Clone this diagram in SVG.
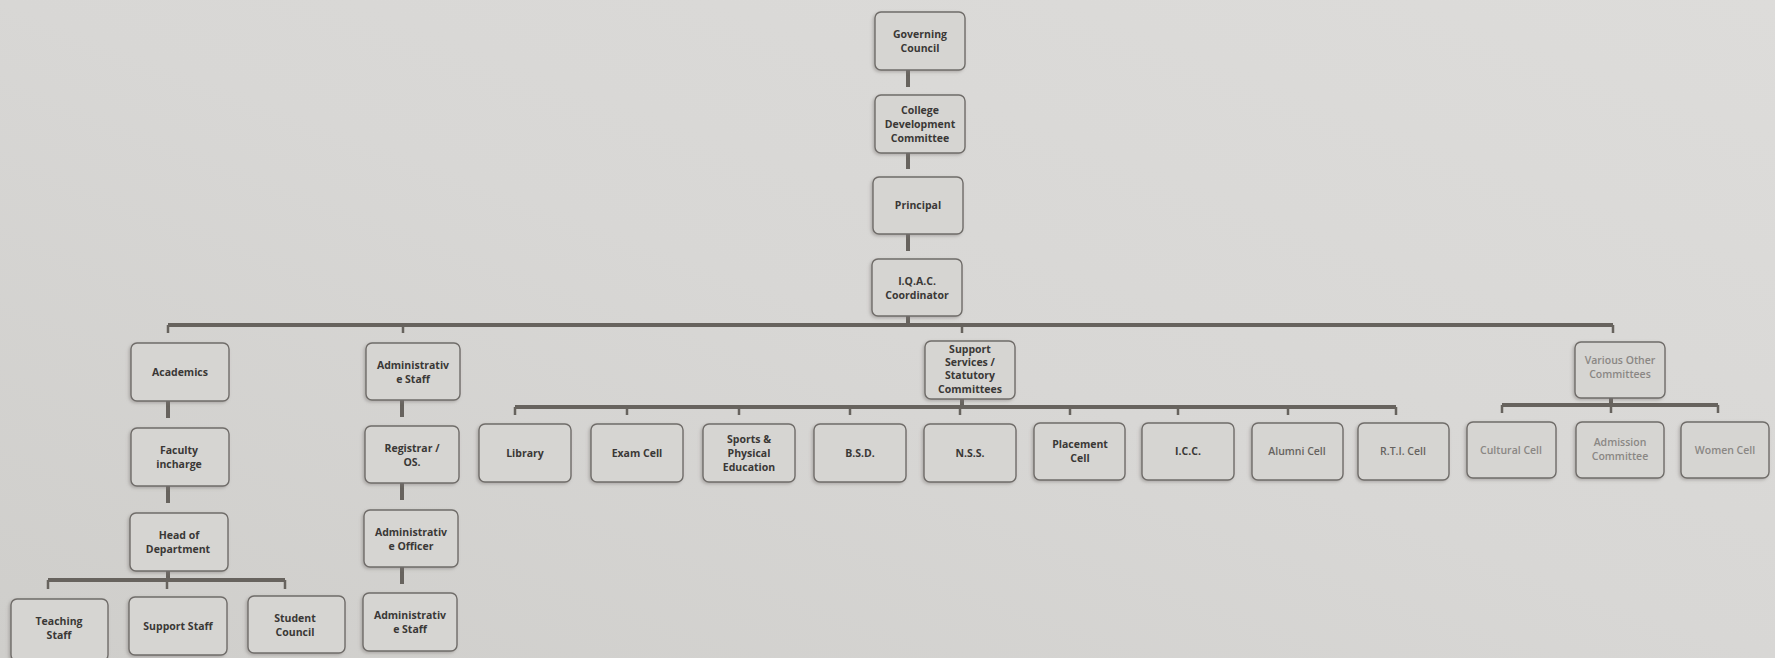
<svg xmlns="http://www.w3.org/2000/svg" width="1775" height="658" viewBox="0 0 1775 658">
<defs>
<linearGradient id="bg" x1="0" y1="1" x2="1" y2="0">
<stop offset="0" stop-color="#cfcecb"/>
<stop offset="0.5" stop-color="#d8d7d5"/>
<stop offset="1" stop-color="#dddcda"/>
</linearGradient>
<filter id="sh" x="-10%" y="-10%" width="120%" height="125%">
<feDropShadow dx="-1.5" dy="1.5" stdDeviation="1.5" flood-color="#7a7774" flood-opacity="0.45"/>
</filter>
<style>
.b{fill:#d6d5d2;stroke:#6f6c69;stroke-width:1.4;filter:url(#sh)}
.t{font-family:"Open Sans","Liberation Sans",sans-serif;font-size:10.5px;font-weight:700;fill:#3a3836;text-anchor:middle}
.f{fill:#8a8784;font-weight:600}
.m{fill:#666360;font-weight:600}
.c{stroke:#67635e;stroke-width:4;fill:none}
.k{stroke:#67635e;stroke-width:2.5;fill:none}
</style>
</defs>
<rect width="1775" height="658" fill="url(#bg)"/>

<g id="connectors">
<path class="c" d="M908 70V87M908 153V169M908 234V251M908 316V325"/>
<path class="c" d="M168 325H1613"/>
<path class="k" d="M168 325V333M403 325V333M962 325V333M1613 325V333"/>
<path class="c" d="M168 401V418M168 486V503M168 571V580"/>
<path class="c" d="M48 580H285"/>
<path class="k" d="M48 580V589M167 580V589M285 580V589"/>
<path class="c" d="M402 400V417M402 483V500M402 567V584"/>
<path class="c" d="M962 399V407M515 407H1396"/>
<path class="k" d="M515 407V415M627 407V415M739 407V415M850 407V415M960 407V415M1070 407V415M1178 407V415M1288 407V415M1396 407V415"/>
<path class="c" d="M1611 398V405M1502 405H1718"/>
<path class="k" d="M1502 405V413M1611 405V413M1718 405V413"/>
</g>

<g id="governing"><rect class="b" x="875" y="12" width="90" height="58" rx="6"/><text class="t" x="920" y="38">Governing</text><text class="t" x="920" y="52">Council</text></g>
<g id="cdc"><rect class="b" x="875" y="95" width="90" height="58" rx="6"/><text class="t" x="920" y="114">College</text><text class="t" x="920" y="128">Development</text><text class="t" x="920" y="142">Committee</text></g>
<g id="principal"><rect class="b" x="873" y="177" width="90" height="57" rx="6"/><text class="t" x="918" y="209">Principal</text></g>
<g id="iqac"><rect class="b" x="872" y="259" width="90" height="57" rx="6"/><text class="t" x="917" y="285">I.Q.A.C.</text><text class="t" x="917" y="299">Coordinator</text></g>

<g id="academics"><rect class="b" x="131" y="343" width="98" height="58" rx="6"/><text class="t" x="180" y="376">Academics</text></g>
<g id="faculty"><rect class="b" x="131" y="428" width="98" height="58" rx="6"/><text class="t" x="179" y="454">Faculty</text><text class="t" x="179" y="468">incharge</text></g>
<g id="hod"><rect class="b" x="130" y="513" width="98" height="58" rx="6"/><text class="t" x="179" y="539">Head of</text><text class="t" x="178" y="553">Department</text></g>
<g id="teaching"><rect class="b" x="11" y="599" width="97" height="62" rx="6"/><text class="t" x="59" y="625">Teaching</text><text class="t" x="59" y="639">Staff</text></g>
<g id="supportstaff"><rect class="b" x="129" y="597" width="98" height="58" rx="6"/><text class="t" x="178" y="630">Support Staff</text></g>
<g id="studentcouncil"><rect class="b" x="248" y="596" width="97" height="57" rx="6"/><text class="t" x="295" y="622">Student</text><text class="t" x="295" y="636">Council</text></g>

<g id="adminstaff"><rect class="b" x="366" y="343" width="94" height="57" rx="6"/><text class="t" x="413" y="369">Administrativ</text><text class="t" x="413" y="383">e Staff</text></g>
<g id="registrar"><rect class="b" x="365" y="426" width="94" height="57" rx="6"/><text class="t" x="412" y="452">Registrar /</text><text class="t" x="412" y="466">OS.</text></g>
<g id="adminofficer"><rect class="b" x="364" y="510" width="94" height="57" rx="6"/><text class="t" x="411" y="536">Administrativ</text><text class="t" x="411" y="550">e Officer</text></g>
<g id="adminstaff2"><rect class="b" x="363" y="593" width="94" height="58" rx="6"/><text class="t" x="410" y="619">Administrativ</text><text class="t" x="410" y="633">e Staff</text></g>

<g id="supportservices"><rect class="b" x="925" y="341" width="90" height="58" rx="6"/><text class="t" x="970" y="353">Support</text><text class="t" x="970" y="366">Services /</text><text class="t" x="970" y="379">Statutory</text><text class="t" x="970" y="393">Committees</text></g>
<g id="library"><rect class="b" x="479" y="424" width="92" height="58" rx="6"/><text class="t" x="525" y="457">Library</text></g>
<g id="examcell"><rect class="b" x="591" y="424" width="92" height="58" rx="6"/><text class="t" x="637" y="457">Exam Cell</text></g>
<g id="sports"><rect class="b" x="703" y="424" width="92" height="58" rx="6"/><text class="t" x="749" y="443">Sports &amp;</text><text class="t" x="749" y="457">Physical</text><text class="t" x="749" y="471">Education</text></g>
<g id="bsd"><rect class="b" x="814" y="424" width="92" height="58" rx="6"/><text class="t" x="860" y="457">B.S.D.</text></g>
<g id="nss"><rect class="b" x="924" y="424" width="92" height="58" rx="6"/><text class="t" x="970" y="457">N.S.S.</text></g>
<g id="placement"><rect class="b" x="1034" y="423" width="91" height="57" rx="6"/><text class="t" x="1080" y="448">Placement</text><text class="t" x="1080" y="462">Cell</text></g>
<g id="icc"><rect class="b" x="1142" y="423" width="92" height="57" rx="6"/><text class="t" x="1188" y="455">I.C.C.</text></g>
<g id="alumni"><rect class="b" x="1252" y="423" width="91" height="57" rx="6"/><text class="t m" x="1297" y="455">Alumni Cell</text></g>
<g id="rti"><rect class="b" x="1358" y="423" width="91" height="57" rx="6"/><text class="t m" x="1403" y="455">R.T.I. Cell</text></g>

<g id="various"><rect class="b" x="1575" y="342" width="90" height="56" rx="6"/><text class="t f" x="1620" y="364" font-size="9.5">Various Other</text><text class="t f" x="1620" y="378" font-size="9.5">Committees</text></g>
<g id="cultural"><rect class="b" x="1467" y="422" width="89" height="56" rx="6"/><text class="t f" x="1511" y="454" font-size="9.5">Cultural Cell</text></g>
<g id="admission"><rect class="b" x="1576" y="422" width="88" height="56" rx="6"/><text class="t f" x="1620" y="446" font-size="9.5">Admission</text><text class="t f" x="1620" y="460" font-size="9.5">Committee</text></g>
<g id="women"><rect class="b" x="1681" y="422" width="88" height="56" rx="6"/><text class="t f" x="1725" y="454" font-size="9.5">Women Cell</text></g>
</svg>
